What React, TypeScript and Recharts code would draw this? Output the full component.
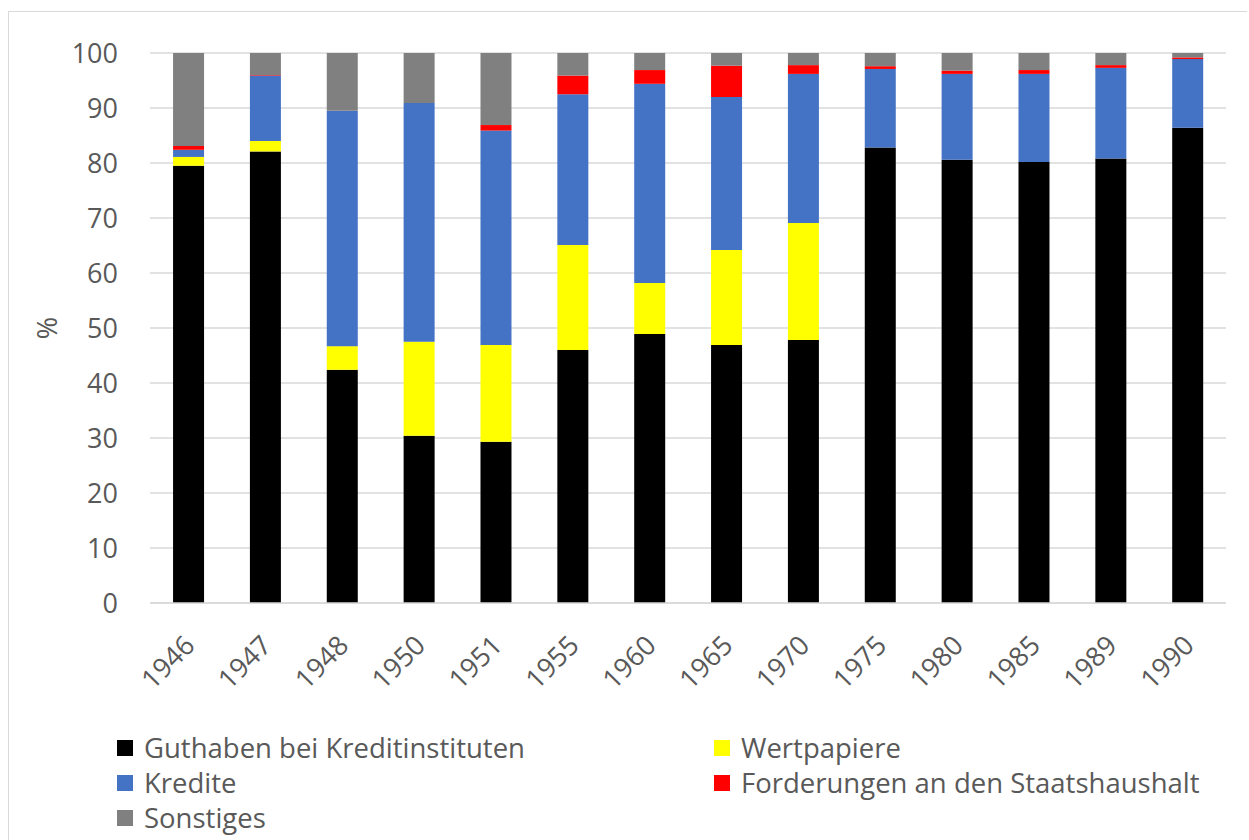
import React from 'react';
import { BarChart, Bar, XAxis, YAxis, CartesianGrid, Legend, Label } from 'recharts';

const years = ['1946', '1947', '1948', '1950', '1951', '1955', '1960', '1965', '1970', '1975', '1980', '1985', '1989', '1990'];
const guthaben    = [79.5, 82.1, 42.4, 30.4, 29.3, 46.0, 48.9, 46.9, 47.8, 82.8, 80.6, 80.2, 80.8, 86.4];
const wertpapiere = [1.6, 1.9, 4.3, 17.1, 17.6, 19.1, 9.3, 17.3, 21.3, 0, 0, 0, 0, 0];
const kredite     = [1.3, 11.9, 42.8, 43.4, 39.0, 27.4, 36.2, 27.8, 27.1, 14.3, 15.6, 16.0, 16.5, 12.5];
const forderungen = [0.7, 0.1, 0, 0, 1.0, 3.4, 2.5, 5.7, 1.6, 0.5, 0.6, 0.7, 0.5, 0.3];
const sonstiges   = [16.9, 4.0, 10.5, 9.1, 13.1, 4.1, 3.1, 2.3, 2.2, 2.4, 3.2, 3.1, 2.2, 0.8];
const yTicks = [0, 10, 20, 30, 40, 50, 60, 70, 80, 90, 100];

const SERIES = [
  { key: 'guthaben', name: 'Guthaben bei Kreditinstituten', color: '#000000' },
  { key: 'wertpapiere', name: 'Wertpapiere', color: '#FFFF00' },
  { key: 'kredite', name: 'Kredite', color: '#4472C4' },
  { key: 'forderungen', name: 'Forderungen an den Staatshaushalt', color: '#FF0000' },
  { key: 'sonstiges', name: 'Sonstiges', color: '#808080' },
];

const data = years.map((year, i) => ({
  year,
  guthaben: guthaben[i],
  wertpapiere: wertpapiere[i],
  kredite: kredite[i],
  forderungen: forderungen[i],
  sonstiges: sonstiges[i],
}));

const FONT = '"Open Sans", sans-serif';
const TEXT = '#595959';

const YearTick = (props: any) => {
  const { x, y, payload } = props;
  const ax = x + 8;
  const ay = y + 44;
  return (
    <text x={ax} y={ay} transform={`rotate(-45, ${ax}, ${ay})`} textAnchor="end"
      fill={TEXT} fontSize={27} fontFamily={FONT}>
      {payload.value}
    </text>
  );
};

const LegendBox = () => (
  <div style={{ position: 'relative', width: 1238, height: 105, fontFamily: FONT, fontSize: 27.5, color: TEXT }}>
    {SERIES.map((s, i) => {
      const col = i % 2;
      const row = Math.floor(i / 2);
      return (
        <div key={s.key} style={{ position: 'absolute', left: col === 0 ? 108 : 705, top: row * 35, height: 35, display: 'flex', alignItems: 'center', whiteSpace: 'nowrap' }}>
          <span style={{ display: 'inline-block', width: 16, height: 16, background: s.color, marginRight: 11 }} />
          <span>{s.name}</span>
        </div>
      );
    })}
  </div>
);

export default function App() {
  return (
    <div style={{ position: 'relative', width: 1249, height: 840, overflow: 'hidden', background: '#fff' }}>
      <style>{'body{margin:0}'}</style>
      <div style={{ position: 'absolute', left: 8, top: 11, borderTop: '1px solid #d9d9d9', borderLeft: '1px solid #d9d9d9', width: 1238, height: 828 }}>
        <BarChart width={1238} height={828} data={data} barCategoryGap="30%"
          margin={{ top: 41, right: 21, bottom: 127, left: 0 }}>
          <CartesianGrid vertical={false} stroke="#d9d9d9" strokeWidth={1.3} />
          <XAxis dataKey="year" height={110} tick={<YearTick />} tickLine={false}
            tickSize={0} tickMargin={0} axisLine={{ stroke: '#d9d9d9', strokeWidth: 1.3 }} interval={0} />
          <YAxis width={141} domain={[0, 100]} ticks={yTicks} interval={0} axisLine={false} tickLine={false}
            tickSize={0} tickMargin={32} tick={{ fill: TEXT, fontSize: 27, fontFamily: FONT }}>
            <Label content={(p: any) => {
              const vb = p.viewBox || {};
              const cy = vb.y + vb.height / 2;
              return (
                <text x={37} y={cy} transform={`rotate(-90, 37, ${cy})`} textAnchor="middle"
                  dominantBaseline="central" fill={TEXT} fontSize={27} fontFamily={FONT}>%</text>
              );
            }} />
          </YAxis>
          <Legend verticalAlign="middle" align="center" content={<LegendBox />}
            wrapperStyle={{ top: 718, left: 0, width: 1238, height: 105 }} />
          {SERIES.map((s) => (
            <Bar key={s.key} dataKey={s.key} name={s.name} stackId="a" fill={s.color} isAnimationActive={false} />
          ))}
        </BarChart>
      </div>
    </div>
  );
}
